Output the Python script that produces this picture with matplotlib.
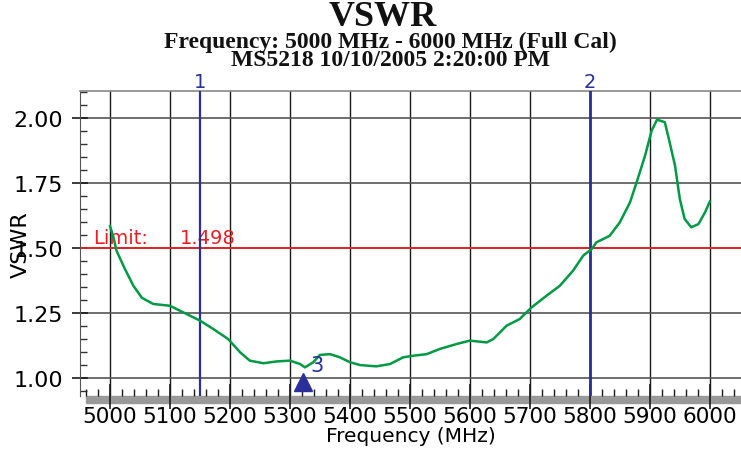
import matplotlib.pyplot as plt
from matplotlib.ticker import MultipleLocator
from matplotlib.patches import Rectangle
import matplotlib.transforms as mtransforms

# trace
freq_mhz = [5000, 5005, 5011, 5025, 5039, 5053, 5072, 5100, 5128, 5150,
            5172, 5197, 5217, 5233, 5256, 5278, 5300, 5317, 5325, 5339,
            5350, 5367, 5383, 5400, 5417, 5444, 5467, 5489, 5506, 5528,
            5550, 5578, 5600, 5628, 5639, 5661, 5683, 5703, 5728, 5750,
            5772, 5789, 5803, 5811, 5833, 5850, 5867, 5878, 5892, 5903,
            5912, 5925, 5933, 5942, 5950, 5958, 5969, 5981, 5992, 6000]
vswr = [1.585, 1.55, 1.49, 1.42, 1.356, 1.31, 1.286, 1.279, 1.247, 1.222,
        1.19, 1.151, 1.10, 1.068, 1.058, 1.065, 1.068, 1.055, 1.042, 1.062,
        1.09, 1.093, 1.081, 1.062, 1.051, 1.046, 1.055, 1.081, 1.087, 1.093,
        1.113, 1.132, 1.145, 1.138, 1.151, 1.202, 1.228, 1.273, 1.318, 1.356,
        1.414, 1.472, 1.497, 1.523, 1.548, 1.60, 1.677, 1.754, 1.856, 1.952,
        1.995, 1.985, 1.908, 1.818, 1.69, 1.613, 1.581, 1.593, 1.638, 1.68]

limit_value = 1.498
limit_line = 1.50
markers = {'1': 5150, '2': 5800}
marker3 = (5322, '3')

xticks = list(range(5000, 6001, 100))
yticks = [1.00, 1.25, 1.50, 1.75, 2.00]

green = '#009a44'
blue = '#2b2f9a'
red = '#ee1c24'

plt.rcParams['font.family'] = ['DejaVu Sans']

fig = plt.figure(figsize=(7.41, 4.52), dpi=100)
ax = fig.add_axes([80/741, 1-397/452, 661/741, 305/452])
ax.set_facecolor('none')

ax.set_xlim(4950, 6052)
ax.set_ylim(0.932, 2.105)

# grid
for x in xticks:
    ax.axvline(x, color='#1a1a1a', lw=1.0, zorder=1)
for y in yticks:
    ax.axhline(y, color='#555555', lw=1.2, zorder=1)

ax.axhline(limit_line, color=red, lw=1.3, zorder=2)
ax.text(4972, limit_line + 0.006, 'Limit:', color=red, fontsize=14, va='bottom')
ax.text(5117, limit_line + 0.006, '%.3f' % limit_value, color=red, fontsize=14, va='bottom')

trans = mtransforms.blended_transform_factory(ax.transData, ax.transAxes)
for name, f in markers.items():
    ax.axvline(f, color=blue, lw=1.6 if name == '1' else 2.0, zorder=3)
    ax.text(f, 1.03, name, color=blue, fontsize=14, ha='center', va='center',
            transform=trans, clip_on=False)

ax.plot(freq_mhz, vswr, color=green, lw=1.8, zorder=4)

ax.plot(marker3[0], 0.985, marker='^', color=blue, markersize=13, zorder=5,
        clip_on=False)
ax.text(marker3[0] + 23, 1.05, marker3[1], color=blue, fontsize=15,
        ha='center', va='center', zorder=5)

ax.set_xticks(xticks)
ax.set_yticks(yticks)
ax.set_yticklabels(['%.2f' % v for v in yticks])
ax.xaxis.set_minor_locator(MultipleLocator(20))
ax.yaxis.set_minor_locator(MultipleLocator(0.05))
ax.tick_params(axis='x', which='major', direction='inout', length=18,
               width=1.2, color='#1a1a1a', pad=-2, labelsize=15.5)
ax.tick_params(axis='x', which='minor', direction='in', length=5,
               width=1.0, color='#1a1a1a')
ax.tick_params(axis='y', which='major', direction='inout', length=12,
               width=1.2, color='#1a1a1a', pad=6, labelsize=16)
ax.tick_params(axis='y', which='minor', direction='in', length=5,
               width=1.0, color='#333333')

for s in ['right', 'bottom']:
    ax.spines[s].set_visible(False)
ax.spines['top'].set_color('#888888')
ax.spines['left'].set_color('#555555')
ax.spines['top'].set_linewidth(1.2)

ax.set_xlabel('Frequency (MHz)', fontsize=14.5, labelpad=0)
ax.set_ylabel('VSWR', fontsize=16, labelpad=-12)

# scroll bar strip under the plot
fig.patches.append(Rectangle((86/741, 1-404/452), 655/741, 7/452,
                             transform=fig.transFigure, color='#999999',
                             zorder=-1))

fig.text(0.517, 0.962, 'VSWR', fontsize=26, fontweight='bold',
         family='Liberation Serif', ha='center', va='center', color='#111111')
fig.text(0.527, 0.887,
         'Frequency: 5000 MHz - 6000 MHz (Full Cal)\nMS5218 10/10/2005 2:20:00 PM',
         fontsize=17, fontweight='bold', family='Liberation Serif',
         ha='center', va='center', linespacing=0.82, color='#111111')

fig.savefig('out.png', dpi=100)
